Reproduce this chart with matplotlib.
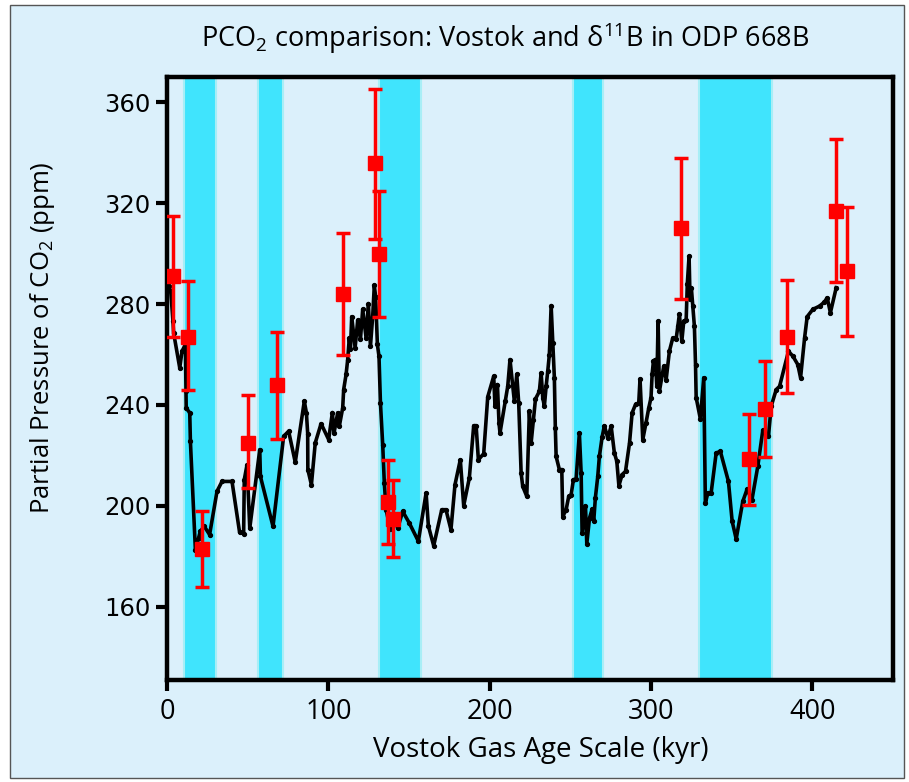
"""Vostok ice-core CO2 vs boron-isotope pCO2 estimates from ODP 668B."""
import matplotlib
matplotlib.use("Agg")
import matplotlib.pyplot as plt
from matplotlib.patches import Rectangle

# Vostok gas record (kyr, ppm)
vostok_age = [1.0, 2.3, 3.7, 4.1, 7.9, 9.3, 11.4, 11.8, 11.9, 14.1, 14.5, 17.6,
              19.6, 20.6, 23.1, 26.4, 31.0, 34.1, 40.3, 45.0, 47.5, 47.9, 49.6,
              51.3, 57.5, 57.9, 65.7, 72.3, 75.4, 79.5, 85.1, 86.4, 87.2, 87.3,
              89.5, 91.9, 95.5, 100.2, 102.5, 103.5, 105.8, 106.8, 108.9, 109.5,
              111.0, 112.0, 113.0, 113.7, 114.5, 116.6, 118.2, 119.9, 121.3,
              123.4, 124.8, 126.1, 127.5, 128.5, 129.3, 130.4, 131.4, 132.3,
              133.7, 134.7, 135.8, 138.4, 140.9, 143.0, 146.1, 150.2, 155.8,
              160.6, 162.0, 165.3, 170.3, 172.9, 176.0, 178.5, 181.8, 183.9,
              187.4, 190.1, 191.6, 193.0, 196.3, 198.8, 202.5, 203.3, 204.8,
              205.8, 206.4, 209.7, 211.2, 212.6, 215.3, 216.8, 218.0, 219.5,
              220.5, 223.0, 224.6, 225.7, 227.1, 228.4, 230.8, 231.9, 232.9,
              233.9, 235.0, 236.0, 237.0, 238.1, 239.1, 240.1, 240.7, 241.2,
              243.2, 244.7, 245.3, 247.4, 249.0, 250.5, 251.9, 253.6, 255.6,
              256.7, 257.3, 259.4, 260.2, 261.9, 263.5, 264.5, 265.5, 267.0,
              268.0, 269.7, 271.1, 273.2, 275.3, 277.3, 278.8, 280.1, 282.1,
              284.2, 286.7, 288.3, 290.4, 292.4, 293.2, 294.9, 296.9, 298.6,
              300.0, 300.7, 301.5, 302.7, 303.6, 304.4, 305.2, 307.9, 309.4,
              311.4, 313.5, 315.6, 316.6, 317.6, 319.1, 320.3, 321.8, 322.5,
              323.6, 324.2, 325.0, 325.9, 326.9, 327.6, 328.0, 330.6, 332.7,
              333.7, 335.2, 337.3, 340.4, 343.0, 348.0, 350.3, 352.8, 356.9,
              359.6, 362.5, 366.2, 369.3, 372.8, 374.5, 377.6, 379.7, 385.2,
              388.0, 391.0, 392.7, 395.2, 396.8, 400.3, 404.5, 407.5, 409.2,
              411.2, 414.8]
vostok_co2 = [287.0, 285.1, 273.2, 268.6, 254.7, 261.3, 264.0, 245.4, 238.8, 236.9,
              225.6, 182.6, 187.3, 189.9, 191.9, 188.6, 205.8, 209.7, 209.7, 189.5,
              189.0, 210.4, 216.3, 191.2, 222.3, 211.7, 191.9, 227.6, 229.6, 217.3,
              241.5, 236.9, 228.7, 214.4, 208.4, 225.0, 232.6, 226.3, 237.0, 228.8,
              236.9, 231.6, 238.8, 246.1, 252.1, 258.0, 266.6, 262.0, 275.0, 262.7,
              273.6, 266.0, 277.9, 266.6, 280.2, 263.3, 275.2, 287.4, 283.0, 264.0,
              259.3, 240.8, 224.3, 209.1, 198.5, 190.8, 195.2, 191.2, 197.8, 193.2,
              186.0, 205.1, 192.1, 184.2, 198.5, 198.5, 190.6, 208.4, 218.3, 200.1,
              211.1, 231.8, 231.8, 218.3, 220.7, 243.2, 251.4, 239.5, 248.1, 232.8,
              228.9, 241.5, 247.4, 258.0, 241.5, 252.1, 240.8, 213.0, 207.7, 203.8,
              237.5, 225.0, 234.2, 242.4, 245.4, 252.7, 242.9, 239.5, 247.4, 253.4,
              260.0, 279.4, 264.6, 250.8, 230.9, 219.6, 214.4, 214.4, 195.8, 198.5,
              203.8, 204.4, 210.4, 210.7, 228.9, 213.0, 189.2, 199.8, 185.0, 195.2,
              198.7, 193.9, 203.1, 211.7, 219.6, 227.3, 231.8, 226.9, 231.6, 221.0,
              217.7, 208.0, 212.4, 213.7, 225.0, 236.9, 240.2, 240.8, 250.3, 226.3,
              232.9, 238.8, 242.9, 252.1, 257.4, 258.0, 247.4, 273.2, 245.4, 255.4,
              250.1, 261.3, 266.6, 266.2, 271.2, 276.0, 265.3, 273.2, 273.8, 288.0,
              299.0, 282.0, 286.5, 279.2, 271.2, 256.0, 242.9, 234.5, 250.8, 201.1,
              205.1, 205.3, 221.0, 221.6, 209.7, 193.9, 186.9, 201.8, 206.7, 202.2,
              215.7, 230.0, 227.6, 239.5, 246.1, 247.4, 261.3, 259.3, 256.0, 250.8,
              266.6, 275.0, 277.9, 279.2, 280.8, 282.5, 276.6, 286.5]

# delta11B-derived pCO2 with error bar ends
boron_age = [4.0, 13.0, 22.0, 50.0, 68.4, 109.3, 129.0, 131.6, 136.8, 140.0,
             318.7, 361.0, 370.7, 384.2, 414.5, 421.6]
boron_co2 = [291, 267, 183, 225, 248, 284, 336, 300, 201.5, 195,
             310, 218.5, 238.5, 267, 317, 293]
boron_lo = [267, 246, 168, 207, 226.5, 260, 305.6, 275, 185, 179.6,
            282, 200.5, 219.3, 244.8, 288.7, 267.3]
boron_hi = [315, 289, 198, 244, 269, 308, 365.2, 325, 218.3, 210.2,
            338, 236.4, 257.6, 289.5, 345.6, 318.5]

# glacial intervals shaded in cyan (kyr)
band_start = [10.4, 56.2, 131.6, 251.5, 330.0]
band_end = [30.4, 71.7, 157.5, 270.0, 375.0]

BG = "#dbf0fb"
CYAN = "#40e4fd"
FONT = "Open Sans"


def main():
    plt.rcParams["mathtext.fontset"] = "custom"
    plt.rcParams["mathtext.rm"] = FONT
    plt.rcParams["mathtext.it"] = FONT

    fig = plt.figure(figsize=(9.09, 7.82), dpi=100, facecolor="white")
    fig.patches.append(Rectangle((10 / 909, 4 / 782), 894 / 909, 773 / 782,
                                 transform=fig.transFigure, facecolor=BG,
                                 edgecolor="#555555", lw=1.0, zorder=-10))
    ax = fig.add_axes([167 / 909, 1 - 680 / 782, 726 / 909, 603 / 782])
    ax.set_facecolor(BG)

    for a, b in zip(band_start, band_end):
        ax.axvspan(a, b, facecolor=CYAN, edgecolor="#a8eef6", lw=1.5, zorder=1)

    ax.plot(vostok_age, vostok_co2, color="black", lw=2.6, marker="o", ms=2.8,
            zorder=3)

    yerr = [[c - lo for c, lo in zip(boron_co2, boron_lo)],
            [hi - c for c, hi in zip(boron_co2, boron_hi)]]
    ax.errorbar(boron_age, boron_co2, yerr=yerr, fmt="s", color="#ff0000",
                ms=10, elinewidth=2.5, capsize=4.8, capthick=2.5, zorder=4)

    ax.set_xlim(0, 450)
    ax.set_ylim(131, 370)
    ax.set_xticks([0, 100, 200, 300, 400])
    ax.set_yticks([160, 200, 240, 280, 320, 360])
    for s in ax.spines.values():
        s.set_linewidth(3.2)
    ax.tick_params(direction="out", length=8, width=3, top=False, right=False)
    ax.tick_params(axis="x", labelsize=19.5, pad=5)
    ax.tick_params(axis="y", labelsize=17.5, pad=4)
    for lab in ax.get_xticklabels():
        lab.set_family(FONT)
    for lab in ax.get_yticklabels():
        lab.set_family("DejaVu Sans")

    ax.set_xlabel("Vostok Gas Age Scale (kyr)", fontsize=20, family=FONT)
    ax.xaxis.set_label_coords(0.515, -0.093)
    ax.set_ylabel("Partial Pressure of CO$_2$ (ppm)", fontsize=18.5, family=FONT)
    ax.yaxis.set_label_coords(-0.152, 0.567)
    fig.text(505 / 909, 1 - 38 / 782,
             r"PCO$_2$ comparison: Vostok and δ$^{11}$B in ODP 668B",
             ha="center", va="center", fontsize=19.5, family=FONT)

    fig.savefig("out.png", dpi=100, facecolor="white")
    plt.close(fig)


if __name__ == "__main__":
    main()
